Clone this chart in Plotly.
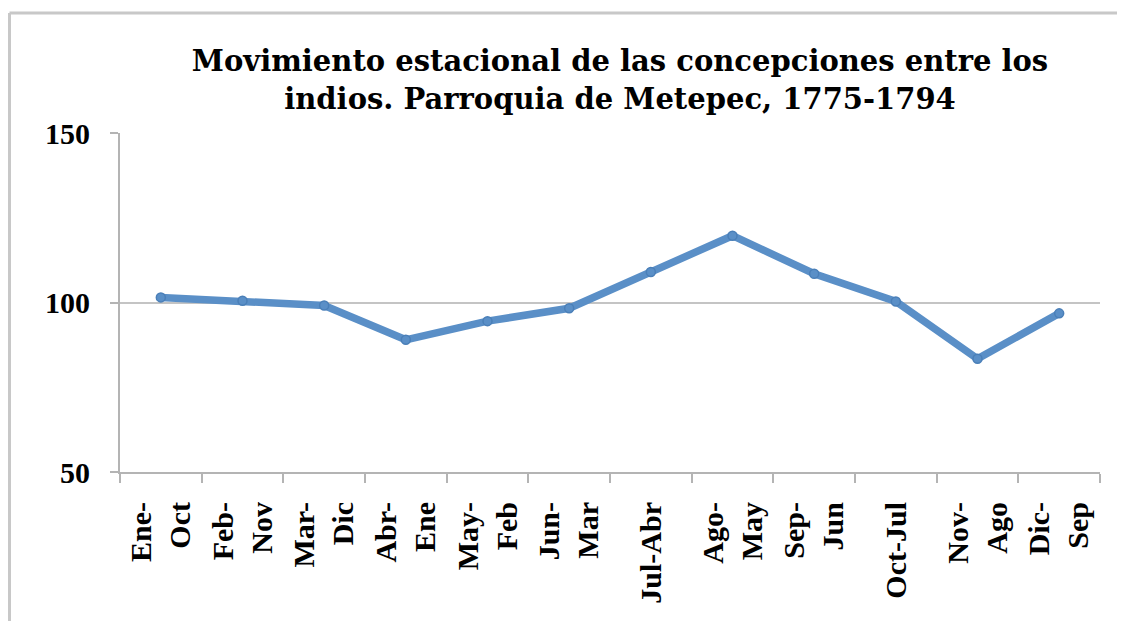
import plotly.graph_objects as go

categories = ["Ene-<br>Oct", "Feb-<br>Nov", "Mar-<br>Dic", "Abr-<br>Ene", "May-<br>Feb", "Jun-<br>Mar",
              "Jul-Abr", "Ago-<br>May", "Sep-<br>Jun", "Oct-Jul", "Nov-<br>Ago", "Dic-<br>Sep"]
values = [101.5, 100.5, 99.1, 89.0, 94.5, 98.3, 109.0, 119.7, 108.5, 100.3, 83.4, 96.8]
y_ticks = [50, 100, 150]

title_text = "Movimiento estacional de las concepciones entre los<br>indios. Parroquia de Metepec, 1775-1794"

W, H = 1117, 613
L, R, T, B = 112, 25, 125, 149
plot_w = W - L - R
plot_h = H - T - B

fig = go.Figure()
fig.add_trace(go.Scatter(
    x=categories, y=values, mode="lines+markers",
    line=dict(color="#5a8fc7", width=7.5),
    marker=dict(symbol="circle", size=9, color="#5a8fc7", line=dict(color="#4a7fb8", width=1.5)),
    showlegend=False,
))

fig.update_layout(
    width=W, height=H,
    margin=dict(l=L, r=R, t=T, b=B),
    paper_bgcolor="white", plot_bgcolor="white",
    title=dict(text=title_text, x=612 / W, xanchor="center", y=0.897, yanchor="middle",
               font=dict(family="DejaVu Serif", size=29, color="black", weight="bold")),
    font=dict(family="Liberation Serif", color="black"),
)
fig.update_xaxes(
    type="category", range=[-0.5, len(categories) - 0.5], tickangle=-90, showgrid=False,
    showline=True, linecolor="#b4b4b4", linewidth=2,
    ticks="outside", tickson="boundaries", ticklen=9, tickcolor="#b4b4b4", tickwidth=2,
    tickfont=dict(family="Liberation Serif", size=30, color="black", weight="bold"),
    ticklabelstandoff=16,
)
fig.update_yaxes(
    range=[50, 150], tickvals=y_ticks,
    showgrid=True, gridcolor="#c4c4c4", gridwidth=2,
    showline=True, linecolor="#b4b4b4", linewidth=2,
    ticks="outside", ticklen=8, tickcolor="#b4b4b4", tickwidth=2,
    tickfont=dict(family="Liberation Serif", size=30, color="black", weight="bold"),
    ticklabelstandoff=14, zeroline=False,
)
top_y = 1 + (T - 5) / plot_h
left_x = (1.5 - L) / plot_w
fig.add_shape(type="line", xref="paper", yref="paper", x0=left_x, x1=1.2, y0=top_y, y1=top_y,
              line=dict(color="#c8c8c8", width=3))
fig.add_shape(type="line", xref="paper", yref="paper", x0=left_x, x1=left_x, y0=top_y, y1=-0.5,
              line=dict(color="#c8c8c8", width=3))

fig.write_html("out.html")
